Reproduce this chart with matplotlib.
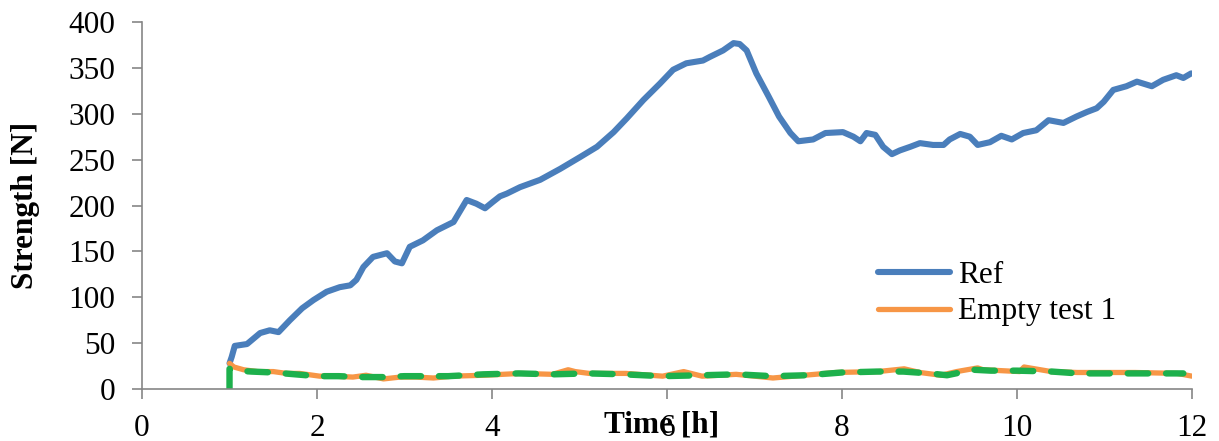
import matplotlib

matplotlib.use("Agg")
import matplotlib.pyplot as plt

# values
ref_t = [1.0, 1.025, 1.06, 1.20, 1.35, 1.46, 1.56, 1.69, 1.83, 1.96, 2.11, 2.26, 2.38, 2.45, 2.53,
         2.64, 2.80, 2.89, 2.97, 3.06, 3.21, 3.37, 3.56, 3.71, 3.82, 3.92, 4.01, 4.09, 4.17, 4.32,
         4.55, 4.78, 5.01, 5.20, 5.39, 5.54, 5.73, 5.92, 6.07, 6.22, 6.41, 6.49, 6.64, 6.76, 6.83,
         6.91, 7.02, 7.16, 7.28, 7.41, 7.50, 7.67, 7.81, 8.01, 8.13, 8.21, 8.28, 8.38, 8.47, 8.57,
         8.66, 8.78, 8.89, 9.04, 9.16, 9.23, 9.35, 9.46, 9.55, 9.69, 9.82, 9.94, 10.07, 10.22, 10.36,
         10.53, 10.68, 10.80, 10.91, 10.99, 11.10, 11.25, 11.37, 11.54, 11.67, 11.82, 11.90, 11.99]
ref_v = [28, 35, 47, 49, 61, 64, 62, 75, 88, 97, 106, 111, 113, 119, 133,
         144, 148, 139, 137, 155, 162, 173, 182, 206, 202, 197, 204, 210, 213, 220,
         228, 240, 253, 264, 280, 295, 315, 333, 348, 355, 358, 362, 369, 377, 376,
         369, 344, 319, 297, 279, 270, 272, 279, 280, 275, 270, 279, 277, 264, 256,
         260, 264, 268, 266, 266, 272, 278, 275, 266, 269, 276, 272, 279, 282, 293,
         290, 297, 302, 306, 313, 326, 330, 335, 330, 337, 342, 339, 344]

empty1_t = [1.0, 1.05, 1.16, 1.32, 1.5, 1.65, 1.8, 2.03, 2.18, 2.41, 2.56, 2.76, 2.95, 3.13, 3.33,
            3.55, 3.91, 4.33, 4.69, 4.87, 4.95, 5.11, 5.53, 5.95, 6.19, 6.40, 6.79, 7.21, 7.57, 7.93,
            8.41, 8.71, 8.89, 9.13, 9.31, 9.55, 9.61, 10.03, 10.08, 10.39, 10.69, 10.93, 11.35, 11.83, 12.0]
empty1_v = [28, 24, 21, 19, 19, 17, 17, 14, 14, 13, 15, 11, 13, 13, 12,
            14, 15, 17, 16, 21, 19, 17, 17, 14, 19, 14, 16, 12, 15, 18,
            19, 22, 18, 15, 19, 23, 21, 19, 24, 19, 18, 18, 18, 17, 14]

empty2_t = [1.0, 1.0, 1.1, 1.25, 1.5, 1.75, 2.0, 2.25, 2.5, 2.75, 3.0, 3.25, 3.5, 3.9, 4.3, 4.7, 5.1, 5.5,
            5.95, 6.4, 6.8, 7.2, 7.6, 8.0, 8.4, 8.7, 9.0, 9.2, 9.5, 9.7, 10.0, 10.4, 10.7, 11.0, 11.4, 11.9]
empty2_v = [0, 22, 20, 19, 18, 16, 14, 14, 13, 13, 14, 14, 14, 16, 17, 16, 17, 16,
            14, 15, 16, 14, 15, 18, 19, 19, 17, 15, 21, 20, 20, 19, 17, 17, 17, 17]

x_ticks = [0, 2, 4, 6, 8, 10, 12]
y_ticks = [0, 50, 100, 150, 200, 250, 300, 350, 400]

BLUE = "#4A7EBB"
ORANGE = "#F79646"
GREEN = "#1DB04C"
GREY = "#868686"


def main():
    plt.rcParams["font.family"] = ["Liberation Serif", "DejaVu Serif"]
    plt.rcParams["font.size"] = 22.5

    fig = plt.figure(figsize=(12.19, 4.41), dpi=100)
    ax = fig.add_axes([0.1165, 0.1179, 0.8614, 0.8322])

    ax.plot(ref_t, ref_v, color=BLUE, lw=4.4, label="Ref", solid_capstyle="round")
    ax.plot(empty1_t, empty1_v, color=ORANGE, lw=3.8, label="Empty test 1", solid_capstyle="round")
    ax.plot(empty2_t, empty2_v, color=GREEN, lw=4.6, linestyle=(0, (3.2, 2.8)),
            dash_capstyle="round", label="_nolegend_")

    ax.set_xlim(0, 12)
    ax.set_ylim(0, 400)
    ax.set_xticks(x_ticks)
    ax.set_yticks(y_ticks)

    for side in ["top", "right"]:
        ax.spines[side].set_visible(False)
    for side in ["left", "bottom"]:
        ax.spines[side].set_color(GREY)
        ax.spines[side].set_linewidth(1.2)

    ax.tick_params(axis="both", direction="out", color=GREY, width=1.2, length=7)
    ax.tick_params(axis="y", pad=12)
    ax.tick_params(axis="x", pad=11)

    ax.set_xlabel("Time [h]", fontweight="bold")
    ax.xaxis.set_label_coords(0.495, -0.058)
    ax.set_ylabel("Strength [N]", fontweight="bold")
    ax.yaxis.set_label_coords(-0.097, 0.5)

    ax.legend(loc="center left", bbox_to_anchor=(0.701, 0.26), frameon=False,
              borderpad=0, borderaxespad=0, handlelength=2.3, handletextpad=0.25,
              labelspacing=0.25)

    fig.savefig("out.png", dpi=100)


if __name__ == "__main__":
    main()
